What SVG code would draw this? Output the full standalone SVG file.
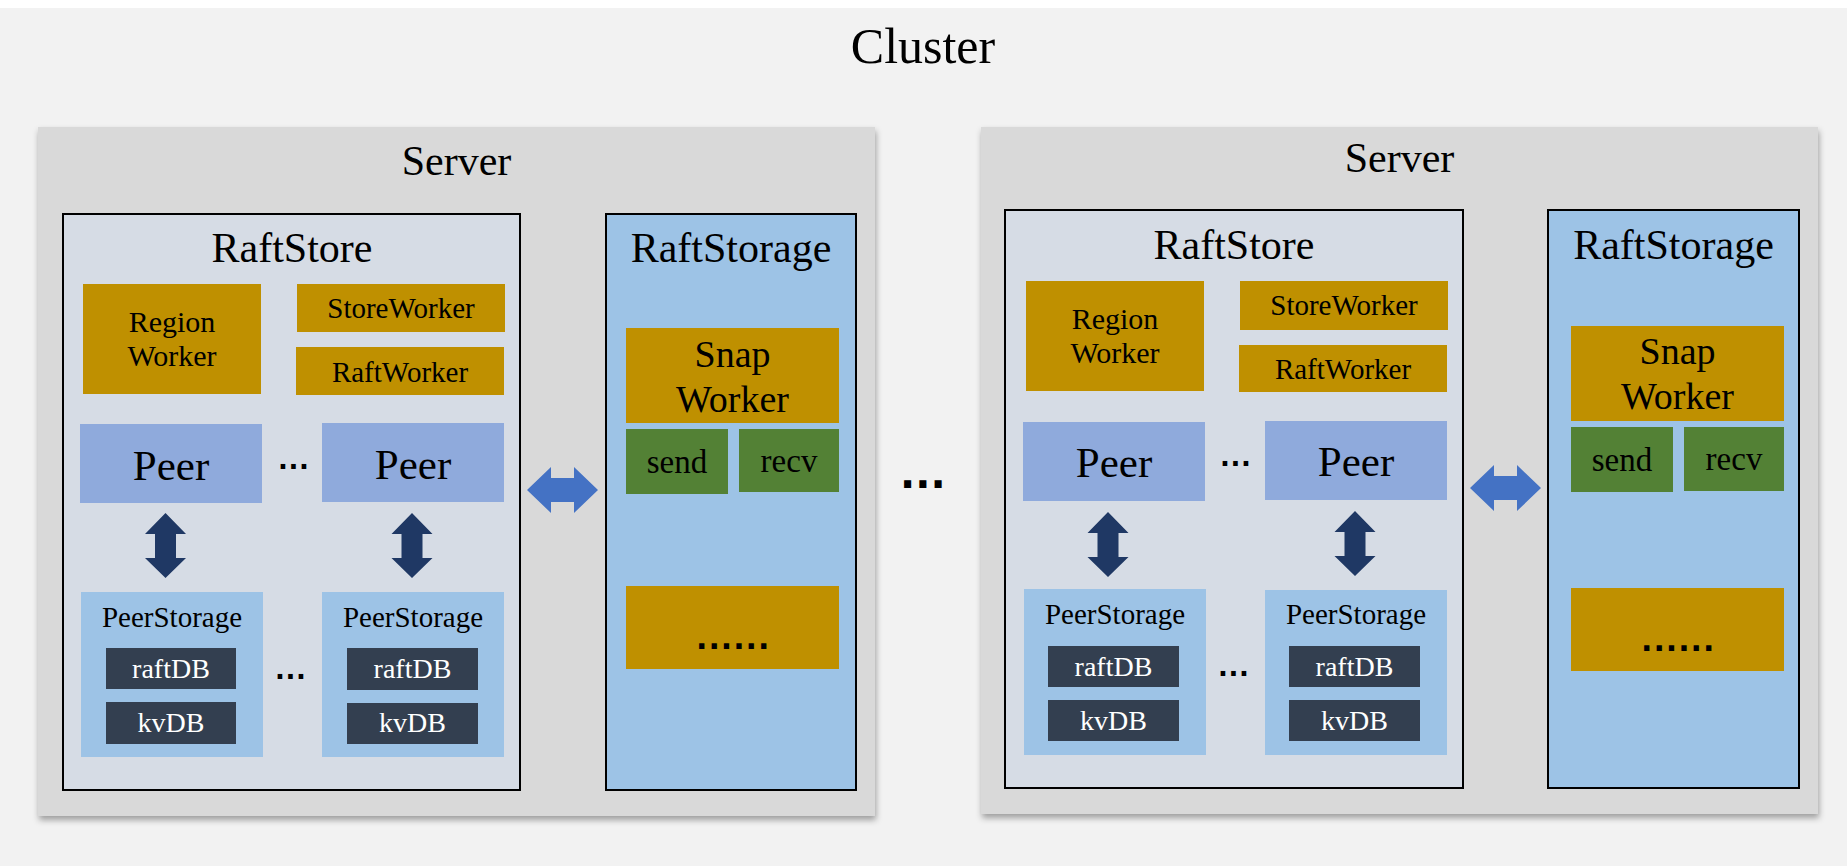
<svg xmlns="http://www.w3.org/2000/svg" width="1847" height="866" viewBox="0 0 1847 866">
<style>
text{font-family:"Liberation Serif","DejaVu Serif",serif;fill:#000;text-anchor:middle}
.srv{fill:#d9d9d9}
.store{fill:#d6dce5;stroke:#000;stroke-width:2}
.storage{fill:#9dc3e6;stroke:#000;stroke-width:2}
.wk{fill:#bf9000}
.peer{fill:#8faadc}
.ps{fill:#9dc3e6}
.db{fill:#333f50}
.gr{fill:#538135}
.t42{font-size:42px}
.t29{font-size:29px}
.t30{font-size:30px}
.t38{font-size:38px}
.t43{font-size:43px}
.t33{font-size:33px}
.dbt{font-size:28px;fill:#fff}
.dots{font-family:"DejaVu Sans",sans-serif;font-weight:bold;text-anchor:start}
.harrow{fill:#4472c4}
.varrow{fill:#1f3864}
</style>
<defs>
<filter id="sh" x="-5%" y="-5%" width="110%" height="110%">
<feDropShadow dx="1" dy="4" stdDeviation="3" flood-color="#000" flood-opacity="0.35"/>
</filter>
<path id="va" d="M0,-32.5 L20.5,-11.5 L10.5,-11.5 L10.5,12.5 L20.5,12.5 L0,32.5 L-20.5,12.5 L-10.5,12.5 L-10.5,-11.5 L-20.5,-11.5 Z"/>
<path id="ha" d="M-35.5,0 L-11.5,-23 L-11.5,-12 L11.5,-12 L11.5,-23 L35.5,0 L11.5,23 L11.5,12 L-11.5,12 L-11.5,23 Z"/>
</defs>
<rect x="0" y="0" width="1847" height="866" fill="#ffffff"/>
<rect x="0" y="8" width="1847" height="858" fill="#f2f2f2"/>
<g id="cluster-title"><text x="923" y="63" style="font-size:50px">Cluster</text></g>

<!-- Left server -->
<g id="server1">
<rect class="srv" x="38" y="127" width="837" height="689" filter="url(#sh)"/>
<text class="t42" x="456.5" y="175">Server</text>
</g>
<g id="raftstore1">
<rect class="store" x="63" y="214" width="457" height="576"/>
<text class="t42" x="292" y="262">RaftStore</text>
</g>
<g id="raftstorage1">
<rect class="storage" x="606" y="214" width="250" height="576"/>
<text class="t42" x="731" y="262">RaftStorage</text>
</g>
<g id="regionworker1">
<rect class="wk" x="83" y="284" width="178" height="110"/>
<text class="t30" x="172" y="332">Region</text>
<text class="t30" x="172" y="366">Worker</text>
</g>
<g id="storeworker1">
<rect class="wk" x="297" y="284" width="208" height="48"/>
<text class="t29" x="401" y="318">StoreWorker</text>
</g>
<g id="raftworker1">
<rect class="wk" x="296" y="347" width="208" height="48"/>
<text class="t29" x="400" y="382">RaftWorker</text>
</g>
<g id="snapworker1">
<rect class="wk" x="626" y="328" width="213" height="95"/>
<text class="t38" x="732.5" y="367">Snap</text>
<text class="t38" x="732.5" y="412">Worker</text>
</g>
<g id="send1">
<rect class="gr" x="626" y="429" width="102" height="65"/>
<text class="t33" x="677" y="473">send</text>
</g>
<g id="recv1">
<rect class="gr" x="739" y="429" width="100" height="63"/>
<text class="t33" x="789" y="472">recv</text>
</g>
<g id="more1">
<rect class="wk" x="626" y="586" width="213" height="83"/>
<text class="dots" x="696" y="649" style="font-size:30px;letter-spacing:1px">......</text>
</g>
<g id="peer1a">
<rect class="peer" x="80" y="424" width="182" height="79"/>
<text class="t43" x="171" y="480">Peer</text>
</g>
<g id="peer1b">
<rect class="peer" x="322" y="423" width="182" height="79"/>
<text class="t43" x="413" y="479">Peer</text>
</g>
<g id="peerdots1"><text class="dots" x="278" y="469" style="font-size:26px;letter-spacing:0.6px">...</text></g>
<g id="peerstorage1a">
<rect class="ps" x="81" y="592" width="182" height="165"/>
<text class="t29" x="172" y="627">PeerStorage</text>
<rect class="db" x="106" y="648" width="130" height="41"/>
<text class="dbt" x="171" y="678">raftDB</text>
<rect class="db" x="106" y="702" width="130" height="42"/>
<text class="dbt" x="171" y="732">kvDB</text>
</g>
<g id="peerstorage1b">
<rect class="ps" x="322" y="592" width="182" height="165"/>
<text class="t29" x="413" y="627">PeerStorage</text>
<rect class="db" x="347" y="648" width="131" height="42"/>
<text class="dbt" x="412.5" y="678">raftDB</text>
<rect class="db" x="347" y="703" width="131" height="41"/>
<text class="dbt" x="412.5" y="732">kvDB</text>
</g>
<g id="psdots1"><text class="dots" x="275" y="679" style="font-size:26px;letter-spacing:0.6px">...</text></g>

<!-- middle dots -->
<g id="serverdots"><text class="dots" x="900" y="488" style="font-size:40px">...</text></g>

<!-- Right server -->
<g id="server2">
<rect class="srv" x="981" y="127" width="837" height="687" filter="url(#sh)"/>
<text class="t42" x="1399.5" y="172">Server</text>
</g>
<g id="raftstore2">
<rect class="store" x="1005" y="210" width="458" height="578"/>
<text class="t42" x="1234" y="259">RaftStore</text>
</g>
<g id="raftstorage2">
<rect class="storage" x="1548" y="210" width="251" height="578"/>
<text class="t42" x="1673.5" y="259">RaftStorage</text>
</g>
<g id="regionworker2">
<rect class="wk" x="1026" y="281" width="178" height="110"/>
<text class="t30" x="1115" y="329">Region</text>
<text class="t30" x="1115" y="363">Worker</text>
</g>
<g id="storeworker2">
<rect class="wk" x="1240" y="281" width="208" height="49"/>
<text class="t29" x="1344" y="315">StoreWorker</text>
</g>
<g id="raftworker2">
<rect class="wk" x="1239" y="345" width="208" height="47"/>
<text class="t29" x="1343" y="379">RaftWorker</text>
</g>
<g id="snapworker2">
<rect class="wk" x="1571" y="326" width="213" height="95"/>
<text class="t38" x="1677.5" y="364">Snap</text>
<text class="t38" x="1677.5" y="409">Worker</text>
</g>
<g id="send2">
<rect class="gr" x="1571" y="427" width="102" height="65"/>
<text class="t33" x="1622" y="471">send</text>
</g>
<g id="recv2">
<rect class="gr" x="1684" y="427" width="100" height="64"/>
<text class="t33" x="1734" y="470">recv</text>
</g>
<g id="more2">
<rect class="wk" x="1571" y="588" width="213" height="83"/>
<text class="dots" x="1641" y="651" style="font-size:30px;letter-spacing:1px">......</text>
</g>
<g id="peer2a">
<rect class="peer" x="1023" y="422" width="182" height="79"/>
<text class="t43" x="1114" y="477">Peer</text>
</g>
<g id="peer2b">
<rect class="peer" x="1265" y="421" width="182" height="79"/>
<text class="t43" x="1356" y="476">Peer</text>
</g>
<g id="peerdots2"><text class="dots" x="1220" y="466" style="font-size:26px;letter-spacing:0.6px">...</text></g>
<g id="peerstorage2a">
<rect class="ps" x="1024" y="589" width="182" height="166"/>
<text class="t29" x="1115" y="624">PeerStorage</text>
<rect class="db" x="1048" y="646" width="131" height="41"/>
<text class="dbt" x="1113.5" y="676">raftDB</text>
<rect class="db" x="1048" y="700" width="131" height="41"/>
<text class="dbt" x="1113.5" y="730">kvDB</text>
</g>
<g id="peerstorage2b">
<rect class="ps" x="1265" y="590" width="182" height="165"/>
<text class="t29" x="1356" y="624">PeerStorage</text>
<rect class="db" x="1289" y="646" width="131" height="41"/>
<text class="dbt" x="1354.5" y="676">raftDB</text>
<rect class="db" x="1289" y="700" width="131" height="41"/>
<text class="dbt" x="1354.5" y="730">kvDB</text>
</g>
<g id="psdots2"><text class="dots" x="1218" y="676" style="font-size:26px;letter-spacing:0.6px">...</text></g>

<!-- connectors -->
<g id="connectors">
<use href="#ha" class="harrow" x="562.5" y="490"/>
<use href="#ha" class="harrow" x="1505.5" y="488"/>
<use href="#va" class="varrow" x="165.5" y="545.5"/>
<use href="#va" class="varrow" x="412" y="545.5"/>
<use href="#va" class="varrow" x="1108" y="544.5"/>
<use href="#va" class="varrow" x="1355" y="543.5"/>
</g>
</svg>
